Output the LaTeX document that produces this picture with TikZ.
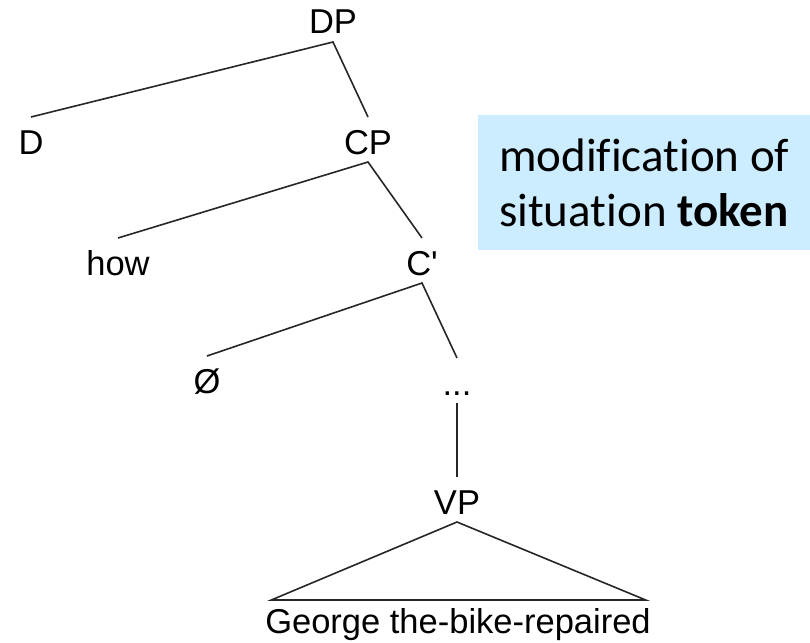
\documentclass[tikz,border=0pt]{standalone}
\usepackage{fontspec}
\setmainfont{Liberation Sans}
\newfontfamily\notefont[Ligatures=NoCommon]{Carlito}
\definecolor{notefill}{RGB}{204,236,255}
\begin{document}
\begin{tikzpicture}[x=1pt,y=-1pt,
  lbl/.style={font=\fontsize{34.5}{40}\selectfont, anchor=base, inner sep=0pt, outer sep=0pt,
              text height=37pt, text depth=8pt},
  leaf/.style={lbl, text height=33pt},
  branch/.style={line width=1.6pt, draw=black!85}]
\useasboundingbox (0,0) rectangle (810,642);

% explanatory note
\node (note) [anchor=north west, fill=notefill, minimum width=332pt, minimum height=135pt,
      inner sep=0pt, align=left,
      font=\notefont\fontsize{47}{55}\selectfont] at (478,115)
  {modification of\\situation \textbf{token}};

% tree labels (placed by baseline)
\node (DP)  [lbl] at (333,34)  {DP};
\node (D)   [lbl] at (31,154)  {D};
\node (CP)  [lbl] at (368,154) {CP};
\node (how) [lbl] at (118,275) {how};
\node (Cb)  [lbl] at (422,275) {C\textquotesingle};
\node (nul) [lbl] at (207,393) {Ø};
\node (dots)[lbl] at (457,395) {...};
\node (VP)  [lbl] at (457,514) {VP};
\node (str) [leaf] at (458,633) {George the-bike-repaired};

% branches
\draw[branch] (D.north) -- (DP.south) -- (CP.north);
\draw[branch] (how.north) -- (CP.south) -- (Cb.north);
\draw[branch] (nul.north) -- (Cb.south) -- (dots.north);
\draw[branch] (dots.south) -- (VP.north);

% triangle over the unanalysed string
\coordinate (triL) at ([xshift=6pt]str.north west);
\coordinate (triR) at ([xshift=-5pt]str.north east);
\draw[branch, line join=miter] (VP.south) -- (triL) -- (triR) -- cycle;
\end{tikzpicture}
\end{document}
